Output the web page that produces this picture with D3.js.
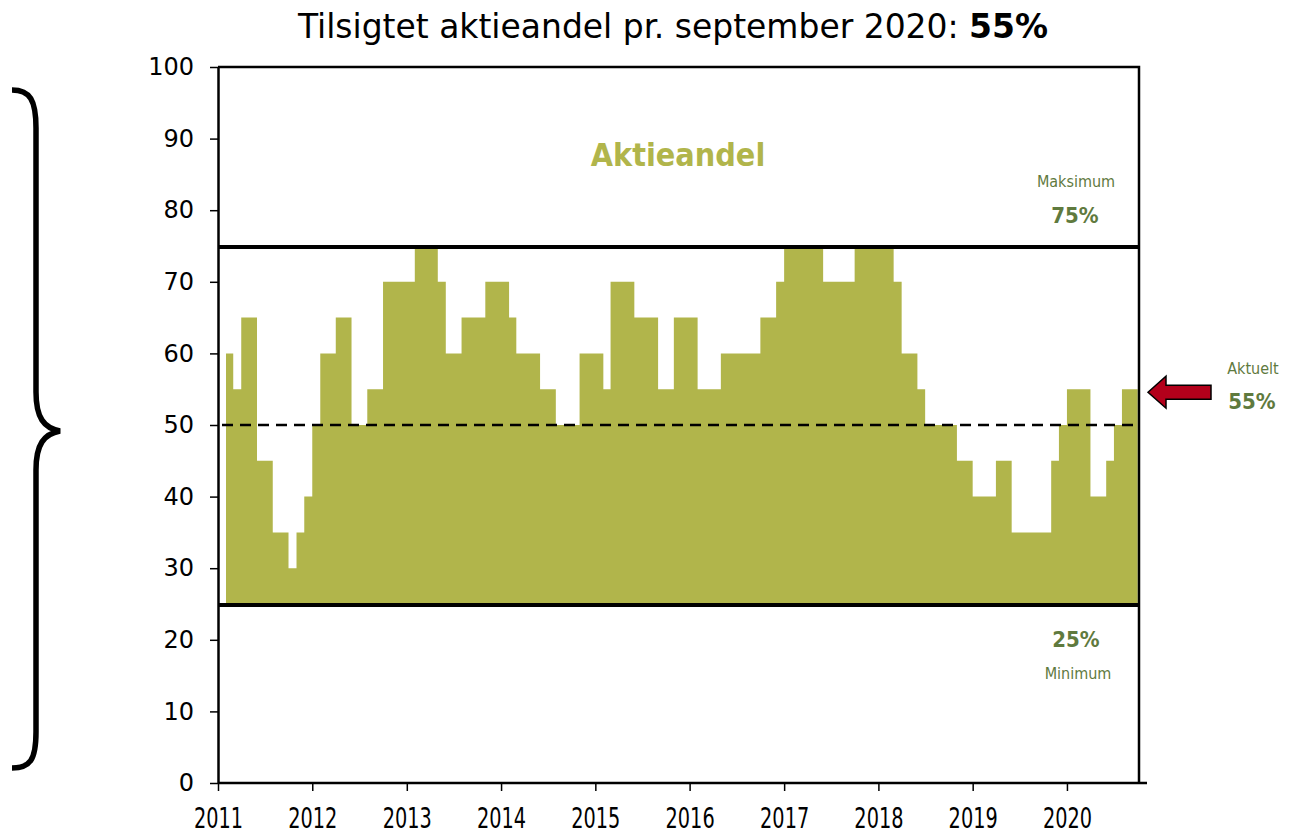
<!DOCTYPE html>
<html lang="da">
<head>
<meta charset="UTF-8">
<script src="https://d3js.org/d3.v7.min.js"></script>
<title>Aktieandel</title>
<style>
  body { margin: 0; background: #fff; }
  text { font-family: 'DejaVu Sans Condensed', 'DejaVu Sans', sans-serif; }
  .xaxis text { font-family: 'Liberation Sans Narrow', 'DejaVu Sans Condensed', sans-serif; }
</style>
</head>
<body>
<script>
const width = 1299, height = 835;

// tilsigtet aktieandel, en værdi pr. måned fra feb 2011 til sep 2020
const firstMonth = new Date(2011, 1, 1);
const monthlyShare = [
  60, 55, 65, 65, 45, 45, 35, 35, 30, 35, 40,              // 2011 (feb-dec)
  50, 60, 60, 65, 65, 50, 50, 55, 55, 70, 70, 70,          // 2012
  70, 75, 75, 75, 70, 60, 60, 65, 65, 65, 70, 70,          // 2013
  70, 65, 60, 60, 60, 55, 55, 50, 50, 50, 60, 60,          // 2014
  60, 55, 70, 70, 70, 65, 65, 65, 55, 55, 65, 65,          // 2015
  65, 55, 55, 55, 60, 60, 60, 60, 60, 65, 65, 70,          // 2016
  75, 75, 75, 75, 75, 70, 70, 70, 70, 75, 75, 75,          // 2017
  75, 75, 70, 60, 60, 55, 50, 50, 50, 50, 45, 45,          // 2018
  40, 40, 40, 45, 45, 35, 35, 35, 35, 35, 45, 50,          // 2019
  55, 55, 55, 40, 40, 45, 50, 55, 55                       // 2020 (jan-sep)
];
const yearTicks = [2011, 2012, 2013, 2014, 2015, 2016, 2017, 2018, 2019, 2020];
const yTicks = [0, 10, 20, 30, 40, 50, 60, 70, 80, 90, 100];
const maxShare = 75, minShare = 25, neutralShare = 50, currentShare = 55;

const plotL = 218, plotR = 1139, plotT = 67, plotB = 783;
const olive = "#b1b54b", darkGreen = "#5f7a3e";

const svg = d3.select("body").append("svg")
    .attr("width", width).attr("height", height);

const x = d3.scaleTime()
    .domain([new Date(2011, 0, 1), new Date(2020, 9, 6)])
    .range([plotL, plotR]);
const y = d3.scaleLinear().domain([0, 100]).range([plotB, plotT]);

// step data: each month's value holds until the next month starts
const points = monthlyShare.map((v, i) => ({date: d3.timeMonth.offset(firstMonth, i), v}));
points.push({date: d3.timeMonth.offset(firstMonth, monthlyShare.length), v: monthlyShare[monthlyShare.length - 1]});

const area = d3.area()
    .curve(d3.curveStepAfter)
    .x(d => x(d.date))
    .y0(y(minShare))
    .y1(d => y(d.v));

svg.append("path")
    .datum(points)
    .attr("fill", olive)
    .attr("d", area);

// neutral line
svg.append("line")
    .attr("x1", plotL + 4).attr("x2", plotR)
    .attr("y1", y(neutralShare)).attr("y2", y(neutralShare))
    .attr("stroke", "#000").attr("stroke-width", 2.5)
    .attr("stroke-dasharray", "11,7");

// max / min bands
[maxShare, minShare].forEach(v => {
  svg.append("line")
      .attr("x1", plotL).attr("x2", plotR)
      .attr("y1", y(v) + 1).attr("y2", y(v) + 1)
      .attr("stroke", "#000").attr("stroke-width", 4);
});

// frame
svg.append("path")
    .attr("d", `M${plotL},${plotT}H${plotR}V${plotB}`)
    .attr("fill", "none").attr("stroke", "#000").attr("stroke-width", 2.5);

// axes
const yAxis = svg.append("g")
    .attr("transform", `translate(${plotL},0)`)
    .call(d3.axisLeft(y).tickValues(yTicks).tickSize(8).tickSizeOuter(0).tickPadding(16));
yAxis.select(".domain").attr("stroke-width", 2.5);
yAxis.selectAll(".tick line").attr("stroke-width", 1.5);
yAxis.selectAll("text").attr("font-size", 24).attr("fill", "#000")
    .style("font-family", "'DejaVu Sans', sans-serif");

const xAxis = svg.append("g")
    .attr("class", "xaxis")
    .attr("transform", `translate(0,${plotB})`)
    .call(d3.axisBottom(x)
        .tickValues(yearTicks.map(yr => new Date(yr, 0, 1)))
        .tickFormat(d3.timeFormat("%Y"))
        .tickSize(8).tickSizeOuter(0).tickPadding(16));
xAxis.select(".domain").attr("stroke-width", 2.5).attr("d", `M${plotL},0H${plotR + 8}`);
xAxis.selectAll(".tick line").attr("stroke-width", 1.5);
xAxis.selectAll("text").attr("font-size", 29).attr("fill", "#000")
    .attr("transform", "scale(0.74,1)");

// title
const title = svg.append("text")
    .attr("x", 673).attr("y", 38)
    .attr("text-anchor", "middle")
    .attr("font-size", 33).attr("fill", "#000")
    .attr("textLength", 750).attr("lengthAdjust", "spacingAndGlyphs");
title.append("tspan").text("Tilsigtet aktieandel pr. september 2020: ");
title.append("tspan").attr("font-weight", "bold").text(currentShare + "%");

// labels in plot
svg.append("text")
    .attr("x", 678).attr("y", 166)
    .attr("text-anchor", "middle")
    .attr("font-size", 32).attr("font-weight", "bold").attr("fill", olive)
    .text("Aktieandel");

const note = (tx, ty, txt, size, bold) => svg.append("text")
    .attr("x", tx).attr("y", ty)
    .attr("text-anchor", "middle")
    .attr("font-size", size)
    .attr("font-weight", bold ? "bold" : "normal")
    .attr("fill", darkGreen)
    .text(txt);

note(1076, 187, "Maksimum", 16, false);
note(1075, 223, maxShare + "%", 22, true);
note(1076, 647, minShare + "%", 22, true);
note(1078, 679, "Minimum", 16, false);
note(1253, 374, "Aktuelt", 16, false);
note(1252, 409, currentShare + "%", 22, true);

// arrow pointing at current value
const ay = y(currentShare) + 3;
svg.append("path")
    .attr("d", `M1148,${ay} L1166,${ay - 16} L1166,${ay - 7} L1211,${ay - 7} L1211,${ay + 7} L1166,${ay + 7} L1166,${ay + 16} Z`)
    .attr("fill", "#b3001b").attr("stroke", "#000").attr("stroke-width", 1.5);

// curly brace on the left
svg.append("path")
    .attr("d", "M12,90 C30,90 36,100 36,128 L36,392 C36,418 44,428 60,431 C44,434 36,444 36,470 L36,732 C36,760 30,768 12,768")
    .attr("fill", "none").attr("stroke", "#000").attr("stroke-width", 5.5);
</script>
</body>
</html>
